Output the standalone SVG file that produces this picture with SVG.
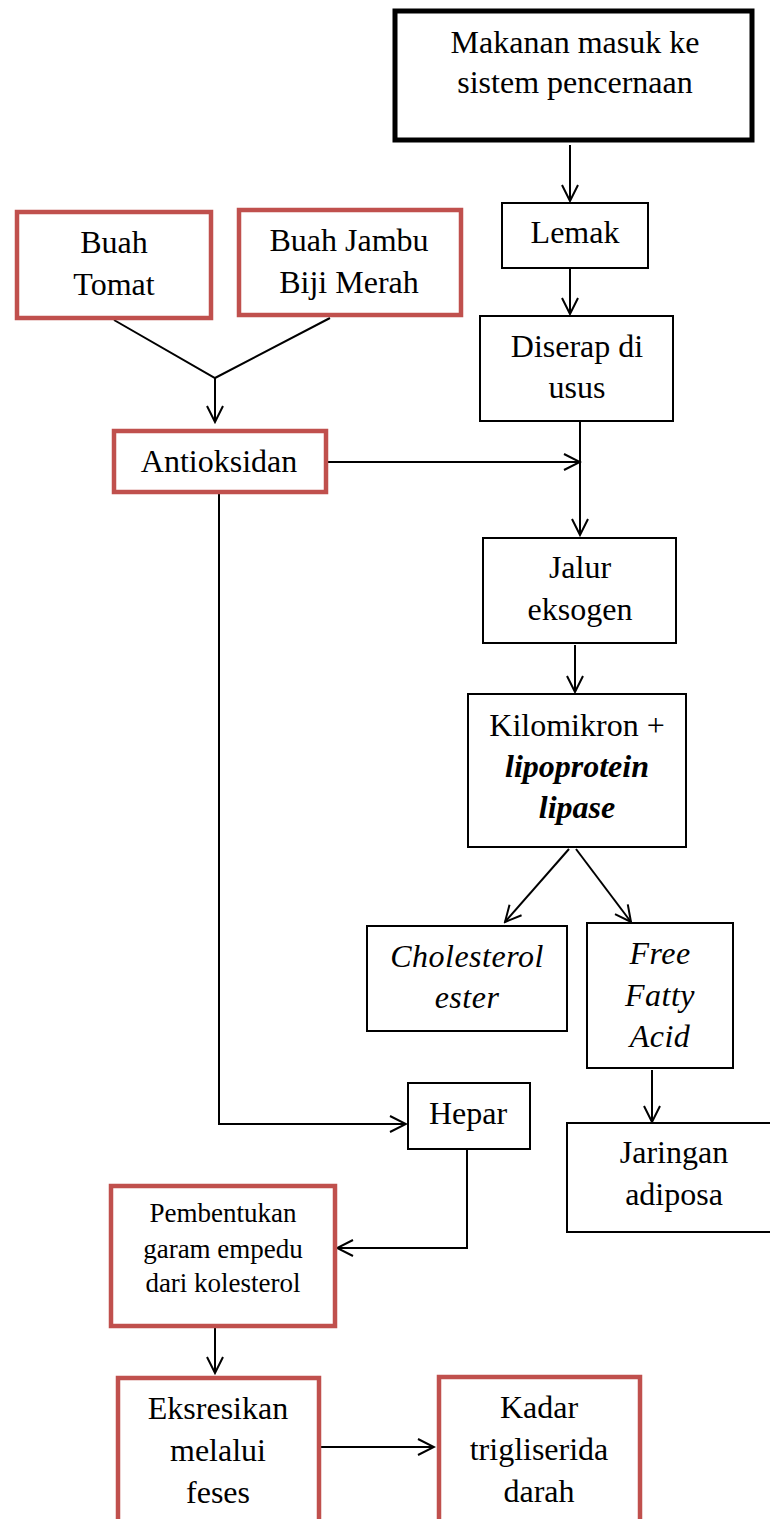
<svg xmlns="http://www.w3.org/2000/svg" width="770" height="1519" viewBox="0 0 770 1519">
<defs>
<marker id="arr" viewBox="0 0 20 20" refX="18" refY="10" markerWidth="20" markerHeight="20" markerUnits="userSpaceOnUse" orient="auto">
<path d="M2,2 L18,10 L2,18" fill="none" stroke="#000" stroke-width="2"/>
</marker>
<style>
.t{font-family:"Liberation Serif","Times New Roman",serif;font-size:32px;fill:#000;text-anchor:middle}
.s{font-size:27px}
.i{font-style:italic}
.bi{font-style:italic;font-weight:bold}
.bk{fill:#fff;stroke:#000;stroke-width:2}
.rd{fill:#fff;stroke:#C0504D;stroke-width:4.5}
.c{fill:none;stroke:#000;stroke-width:2}
</style>
</defs>
<g id="connectors">
<path class="c" d="M570,145 V201" marker-end="url(#arr)"/>
<path class="c" d="M570,268 V314" marker-end="url(#arr)"/>
<path class="c" d="M114,320 L215,378 L330,318"/>
<path class="c" d="M215,378 V422" marker-end="url(#arr)"/>
<path class="c" d="M326,462 H580" marker-end="url(#arr)"/>
<path class="c" d="M580,421 V535" marker-end="url(#arr)"/>
<path class="c" d="M575,645 V692" marker-end="url(#arr)"/>
<path class="c" d="M569,849 L505,922" marker-end="url(#arr)"/>
<path class="c" d="M576,849 L631,922" marker-end="url(#arr)"/>
<path class="c" d="M652,1070 V1122" marker-end="url(#arr)"/>
<path class="c" d="M219,492 V1124 H406" marker-end="url(#arr)"/>
<path class="c" d="M467,1149 V1248 H337" marker-end="url(#arr)"/>
<path class="c" d="M215,1328 V1373" marker-end="url(#arr)"/>
<path class="c" d="M320,1447 H434" marker-end="url(#arr)"/>
</g>
<g id="makanan">
<rect x="395" y="11" width="357" height="129" fill="#fff" stroke="#000" stroke-width="5"/>
<text class="t" x="575" y="53">Makanan masuk ke</text>
<text class="t" x="575" y="93">sistem pencernaan</text>
</g>
<g id="lemak">
<rect class="bk" x="502" y="203" width="146" height="65"/>
<text class="t" x="575" y="243">Lemak</text>
</g>
<g id="diserap">
<rect class="bk" x="480" y="316" width="193" height="105"/>
<text class="t" x="577" y="357">Diserap di</text>
<text class="t" x="577" y="398">usus</text>
</g>
<g id="tomat">
<rect class="rd" x="17" y="212" width="194" height="106"/>
<text class="t" x="114" y="253">Buah</text>
<text class="t" x="114" y="295">Tomat</text>
</g>
<g id="jambu">
<rect class="rd" x="239" y="210" width="222" height="105"/>
<text class="t" x="349" y="251">Buah Jambu</text>
<text class="t" x="349" y="293">Biji Merah</text>
</g>
<g id="antioksidan">
<rect class="rd" x="114" y="431" width="212" height="61"/>
<text class="t" x="219" y="472">Antioksidan</text>
</g>
<g id="jalur">
<rect class="bk" x="483" y="538" width="193" height="105"/>
<text class="t" x="580" y="578">Jalur</text>
<text class="t" x="580" y="620">eksogen</text>
</g>
<g id="kilomikron">
<rect class="bk" x="468" y="694" width="218" height="153"/>
<text class="t" x="577" y="736">Kilomikron +</text>
<text class="t bi" x="577" y="777">lipoprotein</text>
<text class="t bi" x="577" y="818">lipase</text>
</g>
<g id="cholesterol">
<rect class="bk" x="367" y="926" width="200" height="105"/>
<text class="t i" x="467" y="967" letter-spacing="0.5">Cholesterol</text>
<text class="t i" x="467" y="1008" letter-spacing="0.5">ester</text>
</g>
<g id="ffa">
<rect class="bk" x="587" y="923" width="146" height="145"/>
<text class="t i" x="660" y="964" letter-spacing="0.5">Free</text>
<text class="t i" x="660" y="1006" letter-spacing="0.5">Fatty</text>
<text class="t i" x="660" y="1047" letter-spacing="0.5">Acid</text>
</g>
<g id="jaringan">
<rect class="bk" x="567" y="1123" width="210" height="109"/>
<text class="t" x="674" y="1163">Jaringan</text>
<text class="t" x="674" y="1205">adiposa</text>
</g>
<g id="hepar">
<rect class="bk" x="408" y="1083" width="122" height="66"/>
<text class="t" x="468" y="1124">Hepar</text>
</g>
<g id="pembentukan">
<rect class="rd" x="111" y="1186" width="224" height="140"/>
<text class="t s" x="223" y="1222">Pembentukan</text>
<text class="t s" x="223" y="1258">garam empedu</text>
<text class="t s" x="223" y="1292">dari kolesterol</text>
</g>
<g id="eksresikan">
<rect class="rd" x="118" y="1378" width="201" height="150"/>
<text class="t" x="218" y="1419">Eksresikan</text>
<text class="t" x="218" y="1461">melalui</text>
<text class="t" x="218" y="1503">feses</text>
</g>
<g id="kadar">
<rect class="rd" x="439" y="1377" width="201" height="150"/>
<text class="t" x="539" y="1418">Kadar</text>
<text class="t" x="539" y="1460">trigliserida</text>
<text class="t" x="539" y="1502">darah</text>
</g>
</svg>
